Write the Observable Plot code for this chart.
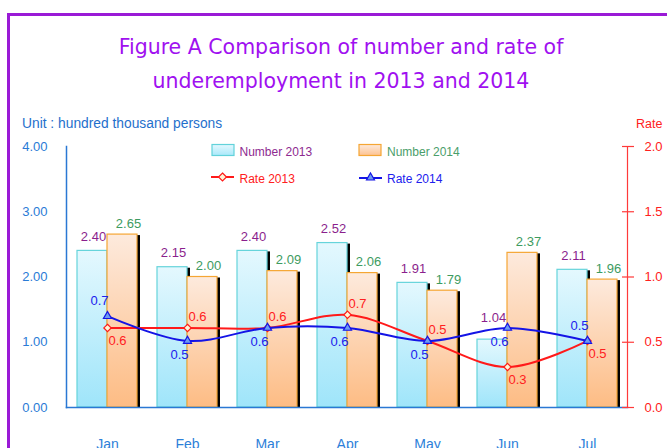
<!DOCTYPE html>
<html>
<head>
<meta charset="utf-8">
<script src="https://cdn.jsdelivr.net/npm/d3@7"></script>
<script src="https://cdn.jsdelivr.net/npm/@observablehq/plot@0.6"></script>
<style>
  html, body { margin:0; padding:0; background:#fff; }
  body { width:667px; height:448px; overflow:hidden; position:relative; }
  #frame { position:absolute; left:7px; top:13px; width:720px; height:520px; border:3px solid #9a1ad6; box-sizing:border-box; }
  .t { position:absolute; line-height:0; white-space:nowrap; }
  .title { left:0; width:682px; text-align:center; font-family:"DejaVu Sans", sans-serif; font-size:20.5px; color:#a010f0; }
  #unit { left:22px; top:123.5px; font-family:"Liberation Sans", sans-serif; font-size:13.8px; color:#1f70cc; }
  #rate { left:636px; top:124px; font-family:"Liberation Sans", sans-serif; font-size:12.5px; color:#ff2020; }
  #chart { position:absolute; left:0; top:100px; }
  #legend { position:absolute; left:0; top:0; }
</style>
</head>
<body>
<div id="frame"></div>
<div class="t title" style="top:47.2px">Figure A Comparison of number and rate of</div>
<div class="t title" style="top:81.2px">underemployment in 2013 and 2014</div>
<div class="t" id="unit">Unit : hundred thousand persons</div>
<div class="t" id="rate">Rate</div>
<div id="chart"></div>
<svg id="legend" width="667" height="200" font-family="Liberation Sans, sans-serif" font-size="12">
  <defs>
    <linearGradient id="lg13" x1="0" y1="0" x2="0" y2="1"><stop offset="0" stop-color="#e4f8fe"/><stop offset="1" stop-color="#a9e8fa"/></linearGradient>
    <linearGradient id="lg14" x1="0" y1="0" x2="0" y2="1"><stop offset="0" stop-color="#fdeadd"/><stop offset="1" stop-color="#fdc290"/></linearGradient>
  </defs>
  <rect x="212" y="144.5" width="22" height="11" fill="url(#lg13)" stroke="#62d2da" stroke-width="1.2"/>
  <text x="239.5" y="156" fill="#8e2a90">Number 2013</text>
  <rect x="359" y="144.5" width="22" height="11" fill="url(#lg14)" stroke="#f5a634" stroke-width="1.2"/>
  <text x="387" y="156" fill="#4a9e6a">Number 2014</text>
  <line x1="211" x2="234" y1="177" y2="177" stroke="#ff1a1a" stroke-width="2"/>
  <path d="M222.5,173 L226.5,177 L222.5,181 L218.5,177 Z" fill="#fff6d6" stroke="#ff1a1a" stroke-width="1.2"/>
  <text x="239.5" y="182.5" fill="#ff2020">Rate 2013</text>
  <line x1="359" x2="382" y1="178" y2="178" stroke="#1414e6" stroke-width="2"/>
  <path d="M370.5,173 L374.5,180 L366.5,180 Z" fill="#6d9cf0" stroke="#1414e6" stroke-width="1.2"/>
  <text x="387" y="182.5" fill="#2020ee">Rate 2014</text>
</svg>
<script>
// ---- data ----
const months = ["Jan", "Feb", "Mar", "Apr", "May", "Jun", "Jul"];
const number2013 = [2.40, 2.15, 2.40, 2.52, 1.91, 1.04, 2.11];
const number2014 = [2.65, 2.00, 2.09, 2.06, 1.79, 2.37, 1.96];
const rate2013 = [0.61, 0.61, 0.61, 0.71, 0.51, 0.31, 0.51];
const rate2014 = [0.70, 0.51, 0.61, 0.61, 0.51, 0.61, 0.51];
const numberTicks = [0, 1, 2, 3, 4];
const rateTicks = [0, 0.5, 1.0, 1.5, 2.0];
// label placement
const rate2013Above = ["Feb", "Mar", "Apr", "May"];
const rate2014Above = ["Jan", "Jul"];
const number2013Raised = ["Jun"];

const K = 2; // rate axis (0–2) is drawn against the number axis (0–4)
const data = months.map((m, i) => ({
  month: m, n13: number2013[i], n14: number2014[i], r13: rate2013[i], r14: rate2014[i]
}));

const LS = "Liberation Sans, sans-serif";
const RED = "#ff1a1a", BLUE = "#1414e6", AXB = "#2a78d4";

const plot = Plot.plot({
  width: 667, height: 360,
  marginTop: 46, marginBottom: 53, marginLeft: 66, marginRight: 40,
  style: { background: "none", fontFamily: LS, fontSize: "13px", overflow: "visible" },
  x: { type: "band", domain: months, paddingInner: 0.25, paddingOuter: 0.125, axis: null, label: null },
  y: { domain: [0, 4], axis: null, label: null },
  marks: [
    // bar shadows
    Plot.barY(data, { x: "month", y: "n13", insetRight: 30, fill: "#000", dx: 3, dy: 1 }),
    Plot.barY(data, { x: "month", y: "n14", insetLeft: 30, fill: "#000", dx: 3, dy: 1 }),
    // bars
    Plot.barY(data, { x: "month", y: "n13", insetRight: 30, fill: "url(#g13)", stroke: "#66d4db", strokeWidth: 1.2 }),
    Plot.barY(data, { x: "month", y: "n14", insetLeft: 30, fill: "url(#g14)", stroke: "#f5a634", strokeWidth: 1.2 }),
    // axes
    Plot.frame({ anchor: "left", stroke: AXB, strokeWidth: 1.5 }),
    Plot.frame({ anchor: "bottom", stroke: AXB, strokeWidth: 1.5 }),
    Plot.axisY({ anchor: "left", label: null, ticks: numberTicks, tickFormat: d3.format(".2f"), tickSize: 0, tickPadding: 19, fill: "#2a7bd6", fontSize: 13 }),
    Plot.axisX({ anchor: "bottom", label: null, tickSize: 0, tickPadding: 32, fill: "#2d7fd9", fontSize: 14 }),
    Plot.frame({ anchor: "right", stroke: "#ff3a3a", strokeWidth: 1.2 }),
    Plot.axisY({ anchor: "right", label: null, ticks: rateTicks.map(r => r * K), fill: "none", tickSize: 12, dx: -6, stroke: "#ff3a3a", strokeWidth: 1.2 }),
    Plot.axisY({ anchor: "right", label: null, ticks: rateTicks.map(r => r * K), tickFormat: d => (d / K).toFixed(1), tickSize: 0, tickPadding: 17, fill: "#ff2020", fontSize: 13 }),
    // bar value labels
    Plot.text(data, { filter: d => !number2013Raised.includes(d.month), x: "month", y: "n13", text: d => d.n13.toFixed(2), dx: -14, dy: -14, fill: "#8b1f8d", fontSize: 13 }),
    Plot.text(data, { filter: d => number2013Raised.includes(d.month), x: "month", y: "n13", text: d => d.n13.toFixed(2), dx: -14, dy: -22, fill: "#8b1f8d", fontSize: 13 }),
    Plot.text(data, { x: "month", y: "n14", text: d => d.n14.toFixed(2), dx: 21, dy: -11, fill: "#3d9b5f", fontSize: 13 }),
    // rate lines
    Plot.line(data, { x: "month", y: d => d.r13 * K, curve: "catmull-rom", stroke: RED, strokeWidth: 2 }),
    Plot.dot(data, { x: "month", y: d => d.r13 * K, symbol: "diamond2", r: 3.3, fill: "#fff6d6", stroke: RED, strokeWidth: 1.2 }),
    Plot.line(data, { x: "month", y: d => d.r14 * K, curve: "catmull-rom", stroke: BLUE, strokeWidth: 2 }),
    Plot.dot(data, { x: "month", y: d => d.r14 * K, symbol: "triangle", r: 3, fill: "#6d9cf0", stroke: BLUE, strokeWidth: 1.2 }),
    // rate labels
    Plot.text(data, { filter: d => rate2013Above.includes(d.month), x: "month", y: d => d.r13 * K, text: d => d.r13.toFixed(1), dx: 10, dy: -11, fill: "#ff2020", fontSize: 13 }),
    Plot.text(data, { filter: d => !rate2013Above.includes(d.month), x: "month", y: d => d.r13 * K, text: d => d.r13.toFixed(1), dx: 10, dy: 13, fill: "#ff2020", fontSize: 13 }),
    Plot.text(data, { filter: d => rate2014Above.includes(d.month), x: "month", y: d => d.r14 * K, text: d => d.r14.toFixed(1), dx: -8, dy: -15, fill: "#2020ee", fontSize: 13 }),
    Plot.text(data, { filter: d => !rate2014Above.includes(d.month), x: "month", y: d => d.r14 * K, text: d => d.r14.toFixed(1), dx: -8, dy: 14, fill: "#2020ee", fontSize: 13 })
  ]
});

const svg = d3.select(plot);
const defs = svg.insert("defs", ":first-child");
function grad(id, top, bottom) {
  const g = defs.append("linearGradient").attr("id", id).attr("x1", 0).attr("y1", 0).attr("x2", 0).attr("y2", 1);
  g.append("stop").attr("offset", 0).attr("stop-color", top);
  g.append("stop").attr("offset", 1).attr("stop-color", bottom);
}
grad("g13", "#e4f8fe", "#9fe5fa");
grad("g14", "#fdeadd", "#fdbc84");
document.getElementById("chart").appendChild(plot);
</script>
</body>
</html>
